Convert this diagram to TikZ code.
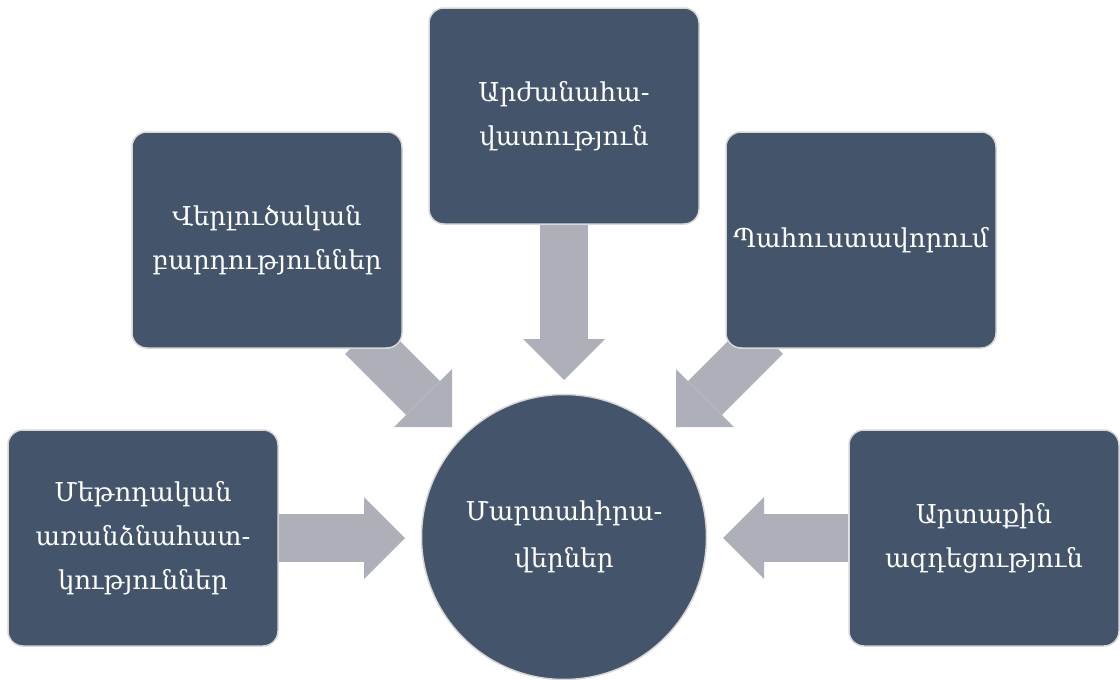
\documentclass[tikz,border=0pt]{standalone}
\usepackage{fontspec}
\setmainfont{DejaVu Serif}
\usetikzlibrary{arrows.meta,backgrounds}

\definecolor{ardoise}{RGB}{68,84,106}
\definecolor{grisfleche}{RGB}{173,176,184}
\definecolor{grisbord}{RGB}{215,215,215}

\tikzset{
  bloc/.style={draw=grisbord, line width=1.5pt, fill=ardoise,
    rounded corners=15pt, minimum width=270pt, minimum height=216pt,
    inner sep=0pt, text=white, align=center,
    font=\fontsize{26}{44}\selectfont},
  rond/.style={draw=grisbord, line width=1.5pt, fill=ardoise, circle,
    minimum size=285pt, inner sep=0pt, text=white, align=center,
    font=\fontsize{26}{47}\selectfont},
  grosse/.style={draw=grisfleche, line width=48pt,
    -{Triangle[width=82pt,length=41pt,line width=0pt]}}
}

\begin{document}
\begin{tikzpicture}[x=1pt,y=-1pt]

\useasboundingbox (0,0) rectangle (1120,680);

% Centre
\node[rond] (defi) at (564,537)
{Մարտահիրա-\\վերներ};

% Haut
\node[bloc] (valeur) at (564,116)
{Արժանահա-\\վատություն};

% Haut gauche
\node[bloc] (analyse) at (267,240)
{Վերլուծական\\բարդություններ};

% Haut droite
\node[bloc] (reserve) at (861,240)
{Պահուստավորում};

% Bas gauche
\node[bloc] (methode) at (143,538)
{Մեթոդական\\առանձնահատ-\\կություններ};

% Bas droite
\node[bloc] (externe) at (984,538)
{Արտաքին\\ազդեցություն};

% Pointes
\coordinate (pHaut) at (564,380);
\coordinate (pHG) at (452,427);
\coordinate (pHD) at (676,427);
\coordinate (pG) at (405,538);
\coordinate (pD) at (723,538);

% Departs obliques
\coordinate (dHG) at (362,337);
\coordinate (dHD) at (766,337);

% Fleches
\begin{scope}[on background layer]
\draw[grosse] (valeur.south) -- (pHaut);
\draw[grosse] (dHG) -- (pHG);
\draw[grosse] (dHD) -- (pHD);
\draw[grosse] (methode.east) -- (pG);
\draw[grosse] (externe.west) -- (pD);
\end{scope}

\end{tikzpicture}
\end{document}
